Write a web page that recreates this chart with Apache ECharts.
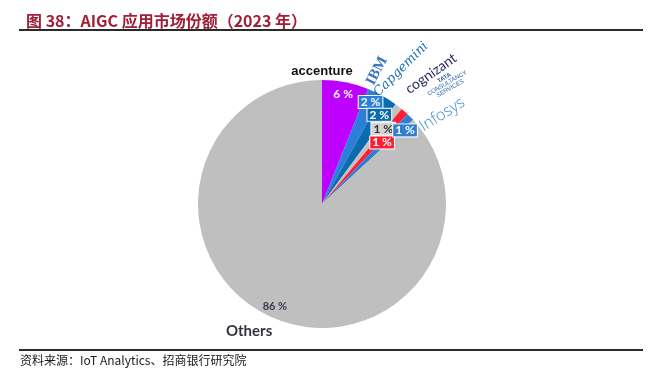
<!DOCTYPE html>
<html><head><meta charset="utf-8">
<script src="https://cdn.jsdelivr.net/npm/echarts@6/dist/echarts.min.js"></script>
<style>html,body{margin:0;padding:0;background:#fff}#c{width:653px;height:378px}</style>
</head><body><div id="c"></div>
<script>
// ---- data ----
const categories = ['accenture', 'IBM', 'Capgemini', 'cognizant', 'TCS', 'Infosys', 'Others'];
const shares = [6, 2, 2, 1, 1, 1, 86];
const titleText = '图 38：AIGC 应用市场份额（2023 年）';
const sourceText = '资料来源：IoT Analytics、招商银行研究院';

// ---- styles ----
const sliceColors = ['#BE00FE', '#2B7FD8', '#0A6BAE', '#C2C2C2', '#FF1E33', '#2E7ED2', '#BFBFBF'];
const CX = 322, CY = 204, R = 124;
// [radius px, angular nudge deg, rotate deg]
const valuePlace = [[112, 0], [113, 0], [106, 0], [97, 1], [86, 2.5], [111, 3], [113, 1]];
const namePlace = [[133, -10.9, 0], [144, -3.0, 62], [156, -2.3, 45], [170, 1.7, 35], [174, 4.2, 30], [150, 7.9, 32], [147, 6.1, 0]];

const boxStyle = (bg, fg) => ({
  backgroundColor: bg, color: fg, borderColor: '#ffffff', borderWidth: 1,
  padding: [1, 2, 0, 2], fontSize: 12, fontWeight: 'bold', fontFamily: 'Lato', lineHeight: 11
});
const valueLabelStyles = [
  { color: '#ffffff', fontSize: 12, fontWeight: 'bold', fontFamily: 'Lato' },
  boxStyle('#2B7FD8', '#ffffff'),
  boxStyle('#0A6BAE', '#ffffff'),
  boxStyle('#D4D4D4', '#333333'),
  boxStyle('#FF1E33', '#ffffff'),
  boxStyle('#2E7ED2', '#ffffff'),
  { color: '#3C3C4C', fontSize: 11, fontWeight: 'bold', fontFamily: 'Lato' }
];
const nameLabelStyles = [
  { fontSize: 13, fontWeight: 'bold', color: '#111111', fontFamily: 'Liberation Sans' },
  { fontSize: 15, fontWeight: 'bold', color: '#3A76BE', fontFamily: 'Liberation Serif' },
  { fontSize: 13, fontStyle: 'italic', color: '#1B6FB5', fontFamily: 'DejaVu Serif' },
  { fontSize: 14, color: '#2B2A63', fontFamily: 'Lato' },
  { fontSize: 6, color: '#2A66B5', fontFamily: 'Liberation Sans', lineHeight: 6,
    formatter: '{b|TATA}\nCONSULTANCY\nSERVICES', rich: { b: { fontSize: 6, fontWeight: 'bold', color: '#1F4F96' } } },
  { fontSize: 16, color: '#3C8DD2', fontFamily: 'Open Sans', fontWeight: 300 },
  { fontSize: 15, fontWeight: 'bold', color: '#333340', fontFamily: 'Lato' }
];

function makeLayout(place) {
  const total = shares.reduce((a, b) => a + b, 0);
  const cum = []; let s = 0; shares.forEach(v => { cum.push(s); s += v; });
  return function (params) {
    const i = params.dataIndex;
    const p = place[i];
    if (!p) return {};
    const a = ((cum[i] + shares[i] / 2) / total * 360 + p[1]) * Math.PI / 180;
    const o = { x: CX + p[0] * Math.sin(a), y: CY - p[0] * Math.cos(a), align: 'center', verticalAlign: 'middle' };
    if (p[2] != null) o.rotate = p[2];
    return o;
  };
}

const chart = echarts.init(document.getElementById('c'), null, { renderer: 'canvas' });
chart.setOption({
  animation: false,
  backgroundColor: '#ffffff',
  title: {
    text: titleText, left: 21, top: 8,
    textStyle: { color: '#A01E36', fontSize: 16, fontWeight: 'bold', fontFamily: 'Noto Sans CJK SC' }
  },
  graphic: [
    { type: 'line', shape: { x1: 19, y1: 30, x2: 643, y2: 30 }, style: { stroke: '#2a2a2a', lineWidth: 2 } },
    { type: 'line', shape: { x1: 19, y1: 350, x2: 643, y2: 350 }, style: { stroke: '#2a2a2a', lineWidth: 2 } },
    { type: 'text', left: 20, top: 354,
      style: { text: sourceText, fill: '#1a1a1a', font: '12px "Noto Sans CJK SC"' } }
  ],
  series: [
    {
      type: 'pie', center: [CX, CY], radius: R, startAngle: 90, clockwise: true,
      silent: true, emphasis: { disabled: true },
      label: { show: true, position: 'inside', formatter: '{c} %' },
      labelLine: { show: false },
      labelLayout: makeLayout(valuePlace),
      data: categories.map((n, i) => ({
        name: n, value: shares[i], itemStyle: { color: sliceColors[i] }, label: valueLabelStyles[i]
      }))
    },
    {
      type: 'pie', center: [CX, CY], radius: R, startAngle: 90, clockwise: true,
      silent: true, emphasis: { disabled: true },
      itemStyle: { color: 'rgba(0,0,0,0)' },
      label: { show: true, position: 'inside', formatter: '{b}' },
      labelLine: { show: false },
      labelLayout: makeLayout(namePlace),
      data: categories.map((n, i) => ({ name: n, value: shares[i], label: nameLabelStyles[i] }))
    }
  ]
});
</script>
</body></html>
